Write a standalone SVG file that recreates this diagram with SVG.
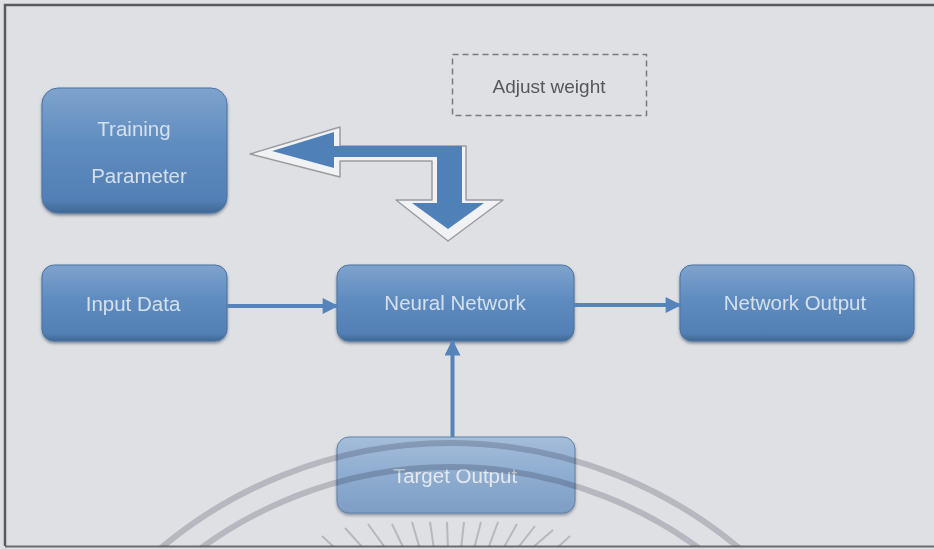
<svg xmlns="http://www.w3.org/2000/svg" width="934" height="549" viewBox="0 0 934 549">
<defs>
<linearGradient id="nodeGrad" x1="0" y1="0" x2="0" y2="1">
<stop offset="0" stop-color="#7fa3cd"/>
<stop offset="0.45" stop-color="#5f8cc0"/>
<stop offset="0.9" stop-color="#527fb5"/>
<stop offset="1" stop-color="#3f6894"/>
</linearGradient>
<linearGradient id="targetGrad" x1="0" y1="0" x2="0" y2="1">
<stop offset="0" stop-color="#9bb8d9"/>
<stop offset="0.5" stop-color="#80a4cd"/>
<stop offset="1" stop-color="#6e93bf"/>
</linearGradient>
<filter id="shadow" x="-10%" y="-10%" width="120%" height="130%">
<feDropShadow dx="0" dy="2" stdDeviation="1.5" flood-color="#2f3f55" flood-opacity="0.55"/>
</filter>
<marker id="arrow" viewBox="0 0 10 10" refX="9" refY="5" markerWidth="4.2" markerHeight="4" orient="auto" markerUnits="strokeWidth">
<path d="M0,0 L10,5 L0,10 Z" fill="#5584ba"/>
</marker>
<clipPath id="frameClip"><rect x="6" y="6" width="928" height="540"/></clipPath>
</defs>
<style>
.node rect { fill: url(#nodeGrad); stroke: #4a73a3; stroke-width: 1; filter: url(#shadow); }
.node text { font-family: "Liberation Sans", Arial, sans-serif; font-size: 20.5px; fill: #d5e0ed; text-anchor: middle; dominant-baseline: central; }
.conn { stroke: #5584ba; stroke-width: 4; fill: none; marker-end: url(#arrow); }
.wm { fill: none; stroke: #d2d2d6; }
#watermark { mix-blend-mode: multiply; }
</style>
<rect x="0" y="0" width="934" height="549" fill="#dfe0e4"/>
<path d="M5,546 L5,5 L934,5" fill="none" stroke="#5a5a5e" stroke-width="2.5"/>
<line x1="5" y1="546.5" x2="934" y2="546.5" stroke="#6a6a6e" stroke-width="2"/>

<g id="adjust-weight">
<rect x="452.5" y="54.5" width="194" height="61" fill="none" stroke="#7a7a7e" stroke-width="1.5" stroke-dasharray="6 4"/>
<text x="549" y="86" font-family="Liberation Sans, Arial, sans-serif" font-size="19" fill="#58585c" text-anchor="middle" dominant-baseline="central">Adjust weight</text>
</g>

<g id="training-parameter" class="node">
<rect x="42" y="88" width="185" height="125" rx="16"/>
<text x="134" y="128">Training</text>
<text x="139" y="175">Parameter</text>
</g>
<g id="input-data" class="node">
<rect x="42" y="265" width="185" height="76" rx="12"/>
<text x="133" y="303">Input Data</text>
</g>
<g id="neural-network" class="node">
<rect x="337" y="265" width="237" height="76" rx="12"/>
<text x="455" y="302">Neural Network</text>
</g>
<g id="network-output" class="node">
<rect x="680" y="265" width="234" height="76" rx="12"/>
<text x="795" y="302">Network Output</text>
</g>
<g id="target-output" class="node" opacity="0.85">
<rect x="337" y="437" width="238" height="76" rx="12" style="fill:url(#targetGrad)"/>
<text x="455" y="475" style="fill:#e6ebf2">Target Output</text>
</g>

<g id="connectors">
<line class="conn" x1="227" y1="306" x2="337" y2="306"/>
<line class="conn" x1="574" y1="305" x2="680" y2="305"/>
<line class="conn" x1="452.5" y1="437" x2="452.5" y2="341"/>
<g id="adjust-arrow">
<path d="M250,154 L340,127 L340,146 L466,146 L466,200 L503,200 L448,241 L396,200 L432,200 L432,161 L340,161 L340,177 Z" fill="#f1f2f4" stroke="#9c9ca0" stroke-width="1.5" stroke-linejoin="round"/>
<path d="M272,151 L334,132 L334,146 L462,146 L462,203 L484,203 L448,229 L412,203 L437,203 L437,157 L334,157 L334,168 Z" fill="#4f80b8"/>
</g>
</g>

<g id="watermark" clip-path="url(#frameClip)">
<circle class="wm" cx="450" cy="893" r="450" stroke-width="6"/>
<circle class="wm" cx="450" cy="889" r="422" stroke-width="6"/>
<g stroke="#d2d2d6" stroke-width="2">
<line x1="322" y1="536" x2="336" y2="549"/>
<line x1="345" y1="528" x2="364" y2="549"/>
<line x1="368" y1="524" x2="386" y2="549"/>
<line x1="392" y1="524" x2="404" y2="549"/>
<line x1="412" y1="522" x2="420" y2="549"/>
<line x1="430" y1="522" x2="434" y2="549"/>
<line x1="447" y1="522" x2="448" y2="549"/>
<line x1="464" y1="522" x2="461" y2="549"/>
<line x1="481" y1="522" x2="474" y2="549"/>
<line x1="498" y1="522" x2="488" y2="549"/>
<line x1="517" y1="524" x2="503" y2="549"/>
<line x1="535" y1="526" x2="517" y2="549"/>
<line x1="553" y1="530" x2="531" y2="549"/>
<line x1="570" y1="536" x2="556" y2="549"/>
</g>
</g>
</svg>
